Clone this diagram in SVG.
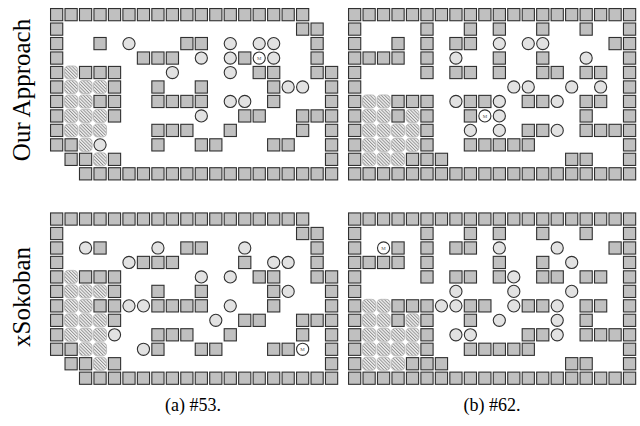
<svg xmlns="http://www.w3.org/2000/svg" width="640" height="426" viewBox="0 0 640 426">
<style>
.w{fill:#c0c0c0;stroke:#303030;stroke-width:.076}
.b{fill:#e2e2e2;stroke:#303030;stroke-width:.076}
.m{fill:#ffffff;stroke:#303030;stroke-width:.076}
.t{fill:url(#h);stroke:#b8b8b8;stroke-width:.06}
.lbl{font-family:"Liberation Serif","Times New Roman",serif;fill:#000}
.mt{font-family:"Liberation Serif","Times New Roman",serif;font-size:5px;fill:#555;text-anchor:middle}
</style>
<defs>
<pattern id="h" patternUnits="userSpaceOnUse" width="0.16" height="0.16" patternTransform="rotate(-45)">
<rect width="0.16" height="0.16" fill="#ececec"/>
<rect width="0.06" height="0.16" fill="#8e8e8e"/>
</pattern>
<g id="W"><rect class="w" x=".079" y=".079" width=".843" height=".843"/></g>
<g id="B"><circle class="b" cx=".5" cy=".5" r=".42"/></g>
<g id="M"><circle class="m" cx=".5" cy=".5" r=".42"/></g>
<g id="T"><rect class="t" x=".05" y=".05" width=".9" height=".9" rx=".28"/></g>
</defs>

<g id="panel-a-ours" transform="translate(49.4,7.4) scale(14.47)">
<use href="#W" x="0" y="0"/><use href="#W" x="1" y="0"/><use href="#W" x="2" y="0"/><use href="#W" x="3" y="0"/><use href="#W" x="4" y="0"/><use href="#W" x="5" y="0"/><use href="#W" x="6" y="0"/><use href="#W" x="7" y="0"/><use href="#W" x="8" y="0"/><use href="#W" x="9" y="0"/><use href="#W" x="10" y="0"/><use href="#W" x="11" y="0"/><use href="#W" x="12" y="0"/><use href="#W" x="13" y="0"/><use href="#W" x="14" y="0"/><use href="#W" x="15" y="0"/><use href="#W" x="16" y="0"/><use href="#W" x="17" y="0"/>
<use href="#W" x="0" y="1"/><use href="#W" x="17" y="1"/><use href="#W" x="18" y="1"/>
<use href="#W" x="0" y="2"/><use href="#W" x="3" y="2"/><use href="#W" x="9" y="2"/><use href="#W" x="10" y="2"/><use href="#W" x="18" y="2"/>
<use href="#B" x="5" y="2"/><use href="#B" x="12" y="2"/><use href="#B" x="14" y="2"/><use href="#B" x="15" y="2"/>
<use href="#W" x="0" y="3"/><use href="#W" x="6" y="3"/><use href="#W" x="7" y="3"/><use href="#W" x="8" y="3"/><use href="#W" x="13" y="3"/><use href="#W" x="18" y="3"/>
<use href="#B" x="10" y="3"/><use href="#B" x="12" y="3"/><use href="#B" x="15" y="3"/><use href="#M" x="14" y="3"/>
<use href="#W" x="0" y="4"/><use href="#W" x="2" y="4"/><use href="#W" x="3" y="4"/><use href="#W" x="4" y="4"/><use href="#W" x="14" y="4"/><use href="#W" x="15" y="4"/><use href="#W" x="18" y="4"/><use href="#W" x="19" y="4"/>
<use href="#T" x="1" y="4"/><use href="#B" x="8" y="4"/><use href="#B" x="12" y="4"/>
<use href="#W" x="0" y="5"/><use href="#W" x="4" y="5"/><use href="#W" x="7" y="5"/><use href="#W" x="10" y="5"/><use href="#W" x="15" y="5"/><use href="#W" x="19" y="5"/>
<use href="#T" x="1" y="5"/><use href="#T" x="2" y="5"/><use href="#T" x="3" y="5"/><use href="#B" x="16" y="5"/><use href="#B" x="17" y="5"/>
<use href="#W" x="0" y="6"/><use href="#W" x="3" y="6"/><use href="#W" x="4" y="6"/><use href="#W" x="7" y="6"/><use href="#W" x="8" y="6"/><use href="#W" x="9" y="6"/><use href="#W" x="10" y="6"/><use href="#W" x="15" y="6"/><use href="#W" x="19" y="6"/>
<use href="#T" x="1" y="6"/><use href="#T" x="2" y="6"/><use href="#B" x="12" y="6"/><use href="#B" x="13" y="6"/>
<use href="#W" x="0" y="7"/><use href="#W" x="4" y="7"/><use href="#W" x="13" y="7"/><use href="#W" x="14" y="7"/><use href="#W" x="17" y="7"/><use href="#W" x="18" y="7"/><use href="#W" x="19" y="7"/>
<use href="#T" x="1" y="7"/><use href="#T" x="2" y="7"/><use href="#T" x="3" y="7"/><use href="#B" x="10" y="7"/>
<use href="#W" x="0" y="8"/><use href="#W" x="7" y="8"/><use href="#W" x="8" y="8"/><use href="#W" x="9" y="8"/><use href="#W" x="12" y="8"/><use href="#W" x="17" y="8"/><use href="#W" x="19" y="8"/>
<use href="#T" x="1" y="8"/><use href="#T" x="2" y="8"/><use href="#T" x="3" y="8"/>
<use href="#W" x="0" y="9"/><use href="#W" x="1" y="9"/><use href="#W" x="7" y="9"/><use href="#W" x="10" y="9"/><use href="#W" x="11" y="9"/><use href="#W" x="15" y="9"/><use href="#W" x="16" y="9"/><use href="#W" x="19" y="9"/>
<use href="#T" x="2" y="9"/><use href="#B" x="3" y="9"/>
<use href="#W" x="1" y="10"/><use href="#W" x="2" y="10"/><use href="#W" x="4" y="10"/><use href="#W" x="19" y="10"/>
<use href="#T" x="3" y="10"/>
<use href="#W" x="2" y="11"/><use href="#W" x="3" y="11"/><use href="#W" x="4" y="11"/><use href="#W" x="5" y="11"/><use href="#W" x="6" y="11"/><use href="#W" x="7" y="11"/><use href="#W" x="8" y="11"/><use href="#W" x="9" y="11"/><use href="#W" x="10" y="11"/><use href="#W" x="11" y="11"/><use href="#W" x="12" y="11"/><use href="#W" x="13" y="11"/><use href="#W" x="14" y="11"/><use href="#W" x="15" y="11"/><use href="#W" x="16" y="11"/><use href="#W" x="17" y="11"/><use href="#W" x="18" y="11"/><use href="#W" x="19" y="11"/>
</g>

<g id="panel-b-xsokoban" transform="translate(49.4,211.8) scale(14.47)">
<use href="#W" x="0" y="0"/><use href="#W" x="1" y="0"/><use href="#W" x="2" y="0"/><use href="#W" x="3" y="0"/><use href="#W" x="4" y="0"/><use href="#W" x="5" y="0"/><use href="#W" x="6" y="0"/><use href="#W" x="7" y="0"/><use href="#W" x="8" y="0"/><use href="#W" x="9" y="0"/><use href="#W" x="10" y="0"/><use href="#W" x="11" y="0"/><use href="#W" x="12" y="0"/><use href="#W" x="13" y="0"/><use href="#W" x="14" y="0"/><use href="#W" x="15" y="0"/><use href="#W" x="16" y="0"/><use href="#W" x="17" y="0"/>
<use href="#W" x="0" y="1"/><use href="#W" x="17" y="1"/><use href="#W" x="18" y="1"/>
<use href="#W" x="0" y="2"/><use href="#W" x="3" y="2"/><use href="#W" x="9" y="2"/><use href="#W" x="10" y="2"/><use href="#W" x="18" y="2"/>
<use href="#B" x="2" y="2"/><use href="#B" x="7" y="2"/><use href="#B" x="13" y="2"/>
<use href="#W" x="0" y="3"/><use href="#W" x="6" y="3"/><use href="#W" x="7" y="3"/><use href="#W" x="8" y="3"/><use href="#W" x="13" y="3"/><use href="#W" x="18" y="3"/>
<use href="#B" x="5" y="3"/><use href="#B" x="15" y="3"/><use href="#B" x="16" y="3"/>
<use href="#W" x="0" y="4"/><use href="#W" x="2" y="4"/><use href="#W" x="3" y="4"/><use href="#W" x="4" y="4"/><use href="#W" x="14" y="4"/><use href="#W" x="15" y="4"/><use href="#W" x="18" y="4"/><use href="#W" x="19" y="4"/>
<use href="#T" x="1" y="4"/><use href="#B" x="10" y="4"/><use href="#B" x="12" y="4"/>
<use href="#W" x="0" y="5"/><use href="#W" x="4" y="5"/><use href="#W" x="7" y="5"/><use href="#W" x="10" y="5"/><use href="#W" x="15" y="5"/><use href="#W" x="19" y="5"/>
<use href="#T" x="1" y="5"/><use href="#T" x="2" y="5"/><use href="#T" x="3" y="5"/><use href="#B" x="16" y="5"/>
<use href="#W" x="0" y="6"/><use href="#W" x="3" y="6"/><use href="#W" x="4" y="6"/><use href="#W" x="7" y="6"/><use href="#W" x="8" y="6"/><use href="#W" x="9" y="6"/><use href="#W" x="10" y="6"/><use href="#W" x="15" y="6"/><use href="#W" x="19" y="6"/>
<use href="#T" x="1" y="6"/><use href="#T" x="2" y="6"/><use href="#B" x="5" y="6"/><use href="#B" x="6" y="6"/><use href="#B" x="12" y="6"/>
<use href="#W" x="0" y="7"/><use href="#W" x="4" y="7"/><use href="#W" x="13" y="7"/><use href="#W" x="14" y="7"/><use href="#W" x="17" y="7"/><use href="#W" x="18" y="7"/><use href="#W" x="19" y="7"/>
<use href="#T" x="1" y="7"/><use href="#T" x="2" y="7"/><use href="#T" x="3" y="7"/><use href="#B" x="11" y="7"/>
<use href="#W" x="0" y="8"/><use href="#W" x="7" y="8"/><use href="#W" x="8" y="8"/><use href="#W" x="9" y="8"/><use href="#W" x="12" y="8"/><use href="#W" x="17" y="8"/><use href="#W" x="19" y="8"/>
<use href="#T" x="1" y="8"/><use href="#T" x="2" y="8"/><use href="#T" x="3" y="8"/><use href="#B" x="4" y="8"/>
<use href="#W" x="0" y="9"/><use href="#W" x="1" y="9"/><use href="#W" x="7" y="9"/><use href="#W" x="10" y="9"/><use href="#W" x="11" y="9"/><use href="#W" x="15" y="9"/><use href="#W" x="16" y="9"/><use href="#W" x="19" y="9"/>
<use href="#T" x="2" y="9"/><use href="#T" x="3" y="9"/><use href="#B" x="6" y="9"/><use href="#M" x="17" y="9"/>
<use href="#W" x="1" y="10"/><use href="#W" x="2" y="10"/><use href="#W" x="4" y="10"/><use href="#W" x="19" y="10"/>
<use href="#T" x="3" y="10"/>
<use href="#W" x="2" y="11"/><use href="#W" x="3" y="11"/><use href="#W" x="4" y="11"/><use href="#W" x="5" y="11"/><use href="#W" x="6" y="11"/><use href="#W" x="7" y="11"/><use href="#W" x="8" y="11"/><use href="#W" x="9" y="11"/><use href="#W" x="10" y="11"/><use href="#W" x="11" y="11"/><use href="#W" x="12" y="11"/><use href="#W" x="13" y="11"/><use href="#W" x="14" y="11"/><use href="#W" x="15" y="11"/><use href="#W" x="16" y="11"/><use href="#W" x="17" y="11"/><use href="#W" x="18" y="11"/><use href="#W" x="19" y="11"/>
</g>

<g id="panel-c-ours" transform="translate(347.4,7.4) scale(14.47)">
<use href="#W" x="0" y="0"/><use href="#W" x="1" y="0"/><use href="#W" x="2" y="0"/><use href="#W" x="3" y="0"/><use href="#W" x="4" y="0"/><use href="#W" x="5" y="0"/><use href="#W" x="6" y="0"/><use href="#W" x="7" y="0"/><use href="#W" x="8" y="0"/><use href="#W" x="9" y="0"/><use href="#W" x="10" y="0"/><use href="#W" x="11" y="0"/><use href="#W" x="12" y="0"/><use href="#W" x="13" y="0"/><use href="#W" x="14" y="0"/><use href="#W" x="15" y="0"/><use href="#W" x="16" y="0"/><use href="#W" x="17" y="0"/><use href="#W" x="18" y="0"/><use href="#W" x="19" y="0"/>
<use href="#W" x="0" y="1"/><use href="#W" x="5" y="1"/><use href="#W" x="8" y="1"/><use href="#W" x="10" y="1"/><use href="#W" x="13" y="1"/><use href="#W" x="16" y="1"/><use href="#W" x="19" y="1"/>
<use href="#W" x="0" y="2"/><use href="#W" x="3" y="2"/><use href="#W" x="5" y="2"/><use href="#W" x="7" y="2"/><use href="#W" x="8" y="2"/><use href="#W" x="18" y="2"/><use href="#W" x="19" y="2"/>
<use href="#B" x="10" y="2"/><use href="#B" x="12" y="2"/><use href="#B" x="13" y="2"/>
<use href="#W" x="0" y="3"/><use href="#W" x="1" y="3"/><use href="#W" x="2" y="3"/><use href="#W" x="3" y="3"/><use href="#W" x="5" y="3"/><use href="#W" x="10" y="3"/><use href="#W" x="13" y="3"/><use href="#W" x="19" y="3"/>
<use href="#B" x="7" y="3"/><use href="#B" x="16" y="3"/>
<use href="#W" x="0" y="4"/><use href="#W" x="5" y="4"/><use href="#W" x="7" y="4"/><use href="#W" x="8" y="4"/><use href="#W" x="10" y="4"/><use href="#W" x="13" y="4"/><use href="#W" x="14" y="4"/><use href="#W" x="16" y="4"/><use href="#W" x="17" y="4"/><use href="#W" x="19" y="4"/>
<use href="#W" x="0" y="5"/><use href="#W" x="19" y="5"/>
<use href="#B" x="11" y="5"/><use href="#B" x="12" y="5"/><use href="#B" x="15" y="5"/><use href="#B" x="17" y="5"/>
<use href="#W" x="0" y="6"/><use href="#W" x="3" y="6"/><use href="#W" x="4" y="6"/><use href="#W" x="5" y="6"/><use href="#W" x="8" y="6"/><use href="#W" x="9" y="6"/><use href="#W" x="12" y="6"/><use href="#W" x="13" y="6"/><use href="#W" x="16" y="6"/><use href="#W" x="17" y="6"/><use href="#W" x="19" y="6"/>
<use href="#T" x="1" y="6"/><use href="#T" x="2" y="6"/><use href="#B" x="7" y="6"/><use href="#B" x="10" y="6"/><use href="#B" x="14" y="6"/>
<use href="#W" x="0" y="7"/><use href="#W" x="3" y="7"/><use href="#W" x="5" y="7"/><use href="#W" x="8" y="7"/><use href="#W" x="16" y="7"/><use href="#W" x="19" y="7"/>
<use href="#T" x="1" y="7"/><use href="#T" x="2" y="7"/><use href="#T" x="4" y="7"/><use href="#M" x="9" y="7"/><use href="#B" x="10" y="7"/>
<use href="#W" x="0" y="8"/><use href="#W" x="5" y="8"/><use href="#W" x="12" y="8"/><use href="#W" x="13" y="8"/><use href="#W" x="16" y="8"/><use href="#W" x="17" y="8"/><use href="#W" x="18" y="8"/><use href="#W" x="19" y="8"/>
<use href="#T" x="1" y="8"/><use href="#T" x="2" y="8"/><use href="#T" x="3" y="8"/><use href="#T" x="4" y="8"/><use href="#B" x="8" y="8"/><use href="#B" x="10" y="8"/><use href="#B" x="14" y="8"/>
<use href="#W" x="0" y="9"/><use href="#W" x="5" y="9"/><use href="#W" x="8" y="9"/><use href="#W" x="9" y="9"/><use href="#W" x="10" y="9"/><use href="#W" x="11" y="9"/><use href="#W" x="12" y="9"/><use href="#W" x="19" y="9"/>
<use href="#T" x="1" y="9"/><use href="#T" x="2" y="9"/><use href="#T" x="3" y="9"/><use href="#T" x="4" y="9"/>
<use href="#W" x="0" y="10"/><use href="#W" x="4" y="10"/><use href="#W" x="5" y="10"/><use href="#W" x="6" y="10"/><use href="#W" x="15" y="10"/><use href="#W" x="16" y="10"/><use href="#W" x="19" y="10"/>
<use href="#T" x="1" y="10"/><use href="#T" x="2" y="10"/><use href="#T" x="3" y="10"/>
<use href="#W" x="0" y="11"/><use href="#W" x="1" y="11"/><use href="#W" x="2" y="11"/><use href="#W" x="3" y="11"/><use href="#W" x="4" y="11"/><use href="#W" x="5" y="11"/><use href="#W" x="6" y="11"/><use href="#W" x="7" y="11"/><use href="#W" x="8" y="11"/><use href="#W" x="9" y="11"/><use href="#W" x="10" y="11"/><use href="#W" x="11" y="11"/><use href="#W" x="12" y="11"/><use href="#W" x="13" y="11"/><use href="#W" x="14" y="11"/><use href="#W" x="15" y="11"/><use href="#W" x="16" y="11"/><use href="#W" x="17" y="11"/><use href="#W" x="18" y="11"/><use href="#W" x="19" y="11"/>
</g>

<g id="panel-d-xsokoban" transform="translate(347.4,211.8) scale(14.47)">
<use href="#W" x="0" y="0"/><use href="#W" x="1" y="0"/><use href="#W" x="2" y="0"/><use href="#W" x="3" y="0"/><use href="#W" x="4" y="0"/><use href="#W" x="5" y="0"/><use href="#W" x="6" y="0"/><use href="#W" x="7" y="0"/><use href="#W" x="8" y="0"/><use href="#W" x="9" y="0"/><use href="#W" x="10" y="0"/><use href="#W" x="11" y="0"/><use href="#W" x="12" y="0"/><use href="#W" x="13" y="0"/><use href="#W" x="14" y="0"/><use href="#W" x="15" y="0"/><use href="#W" x="16" y="0"/><use href="#W" x="17" y="0"/><use href="#W" x="18" y="0"/><use href="#W" x="19" y="0"/>
<use href="#W" x="0" y="1"/><use href="#W" x="5" y="1"/><use href="#W" x="8" y="1"/><use href="#W" x="10" y="1"/><use href="#W" x="13" y="1"/><use href="#W" x="16" y="1"/><use href="#W" x="19" y="1"/>
<use href="#W" x="0" y="2"/><use href="#W" x="3" y="2"/><use href="#W" x="5" y="2"/><use href="#W" x="7" y="2"/><use href="#W" x="8" y="2"/><use href="#W" x="18" y="2"/><use href="#W" x="19" y="2"/>
<use href="#M" x="2" y="2"/><use href="#B" x="10" y="2"/><use href="#B" x="14" y="2"/>
<use href="#W" x="0" y="3"/><use href="#W" x="1" y="3"/><use href="#W" x="2" y="3"/><use href="#W" x="3" y="3"/><use href="#W" x="5" y="3"/><use href="#W" x="10" y="3"/><use href="#W" x="13" y="3"/><use href="#W" x="19" y="3"/>
<use href="#B" x="15" y="3"/>
<use href="#W" x="0" y="4"/><use href="#W" x="5" y="4"/><use href="#W" x="7" y="4"/><use href="#W" x="8" y="4"/><use href="#W" x="10" y="4"/><use href="#W" x="13" y="4"/><use href="#W" x="14" y="4"/><use href="#W" x="16" y="4"/><use href="#W" x="17" y="4"/><use href="#W" x="19" y="4"/>
<use href="#B" x="11" y="4"/>
<use href="#W" x="0" y="5"/><use href="#W" x="19" y="5"/>
<use href="#B" x="7" y="5"/><use href="#B" x="11" y="5"/><use href="#B" x="15" y="5"/>
<use href="#W" x="0" y="6"/><use href="#W" x="3" y="6"/><use href="#W" x="4" y="6"/><use href="#W" x="5" y="6"/><use href="#W" x="8" y="6"/><use href="#W" x="9" y="6"/><use href="#W" x="12" y="6"/><use href="#W" x="13" y="6"/><use href="#W" x="16" y="6"/><use href="#W" x="17" y="6"/><use href="#W" x="19" y="6"/>
<use href="#T" x="1" y="6"/><use href="#T" x="2" y="6"/><use href="#B" x="6" y="6"/><use href="#B" x="7" y="6"/><use href="#B" x="11" y="6"/><use href="#B" x="14" y="6"/>
<use href="#W" x="0" y="7"/><use href="#W" x="3" y="7"/><use href="#W" x="5" y="7"/><use href="#W" x="8" y="7"/><use href="#W" x="16" y="7"/><use href="#W" x="19" y="7"/>
<use href="#T" x="1" y="7"/><use href="#T" x="2" y="7"/><use href="#T" x="4" y="7"/><use href="#B" x="10" y="7"/><use href="#B" x="14" y="7"/>
<use href="#W" x="0" y="8"/><use href="#W" x="5" y="8"/><use href="#W" x="12" y="8"/><use href="#W" x="13" y="8"/><use href="#W" x="16" y="8"/><use href="#W" x="17" y="8"/><use href="#W" x="18" y="8"/><use href="#W" x="19" y="8"/>
<use href="#T" x="1" y="8"/><use href="#T" x="2" y="8"/><use href="#T" x="3" y="8"/><use href="#T" x="4" y="8"/><use href="#B" x="7" y="8"/><use href="#B" x="8" y="8"/><use href="#B" x="14" y="8"/>
<use href="#W" x="0" y="9"/><use href="#W" x="5" y="9"/><use href="#W" x="8" y="9"/><use href="#W" x="9" y="9"/><use href="#W" x="10" y="9"/><use href="#W" x="11" y="9"/><use href="#W" x="12" y="9"/><use href="#W" x="19" y="9"/>
<use href="#T" x="1" y="9"/><use href="#T" x="2" y="9"/><use href="#T" x="3" y="9"/><use href="#T" x="4" y="9"/>
<use href="#W" x="0" y="10"/><use href="#W" x="4" y="10"/><use href="#W" x="5" y="10"/><use href="#W" x="6" y="10"/><use href="#W" x="15" y="10"/><use href="#W" x="16" y="10"/><use href="#W" x="19" y="10"/>
<use href="#T" x="1" y="10"/><use href="#T" x="2" y="10"/><use href="#T" x="3" y="10"/>
<use href="#W" x="0" y="11"/><use href="#W" x="1" y="11"/><use href="#W" x="2" y="11"/><use href="#W" x="3" y="11"/><use href="#W" x="4" y="11"/><use href="#W" x="5" y="11"/><use href="#W" x="6" y="11"/><use href="#W" x="7" y="11"/><use href="#W" x="8" y="11"/><use href="#W" x="9" y="11"/><use href="#W" x="10" y="11"/><use href="#W" x="11" y="11"/><use href="#W" x="12" y="11"/><use href="#W" x="13" y="11"/><use href="#W" x="14" y="11"/><use href="#W" x="15" y="11"/><use href="#W" x="16" y="11"/><use href="#W" x="17" y="11"/><use href="#W" x="18" y="11"/><use href="#W" x="19" y="11"/>
</g>

<g id="player-labels">
<text class="mt" x="259.2" y="59.8">M</text>
<text class="mt" x="302.6" y="351.1">M</text>
<text class="mt" x="484.9" y="117.7">M</text>
<text class="mt" x="383.6" y="249.8">M</text>
</g>

<g id="labels">
<text class="lbl" font-size="25" text-anchor="middle" transform="translate(30,90) rotate(-90)">Our Approach</text>
<text class="lbl" font-size="25" text-anchor="middle" transform="translate(30,297) rotate(-90)">xSokoban</text>
<text class="lbl" font-size="18" text-anchor="middle" x="193" y="411">(a) #53.</text>
<text class="lbl" font-size="18" text-anchor="middle" x="492" y="411">(b) #62.</text>
</g>
</svg>
